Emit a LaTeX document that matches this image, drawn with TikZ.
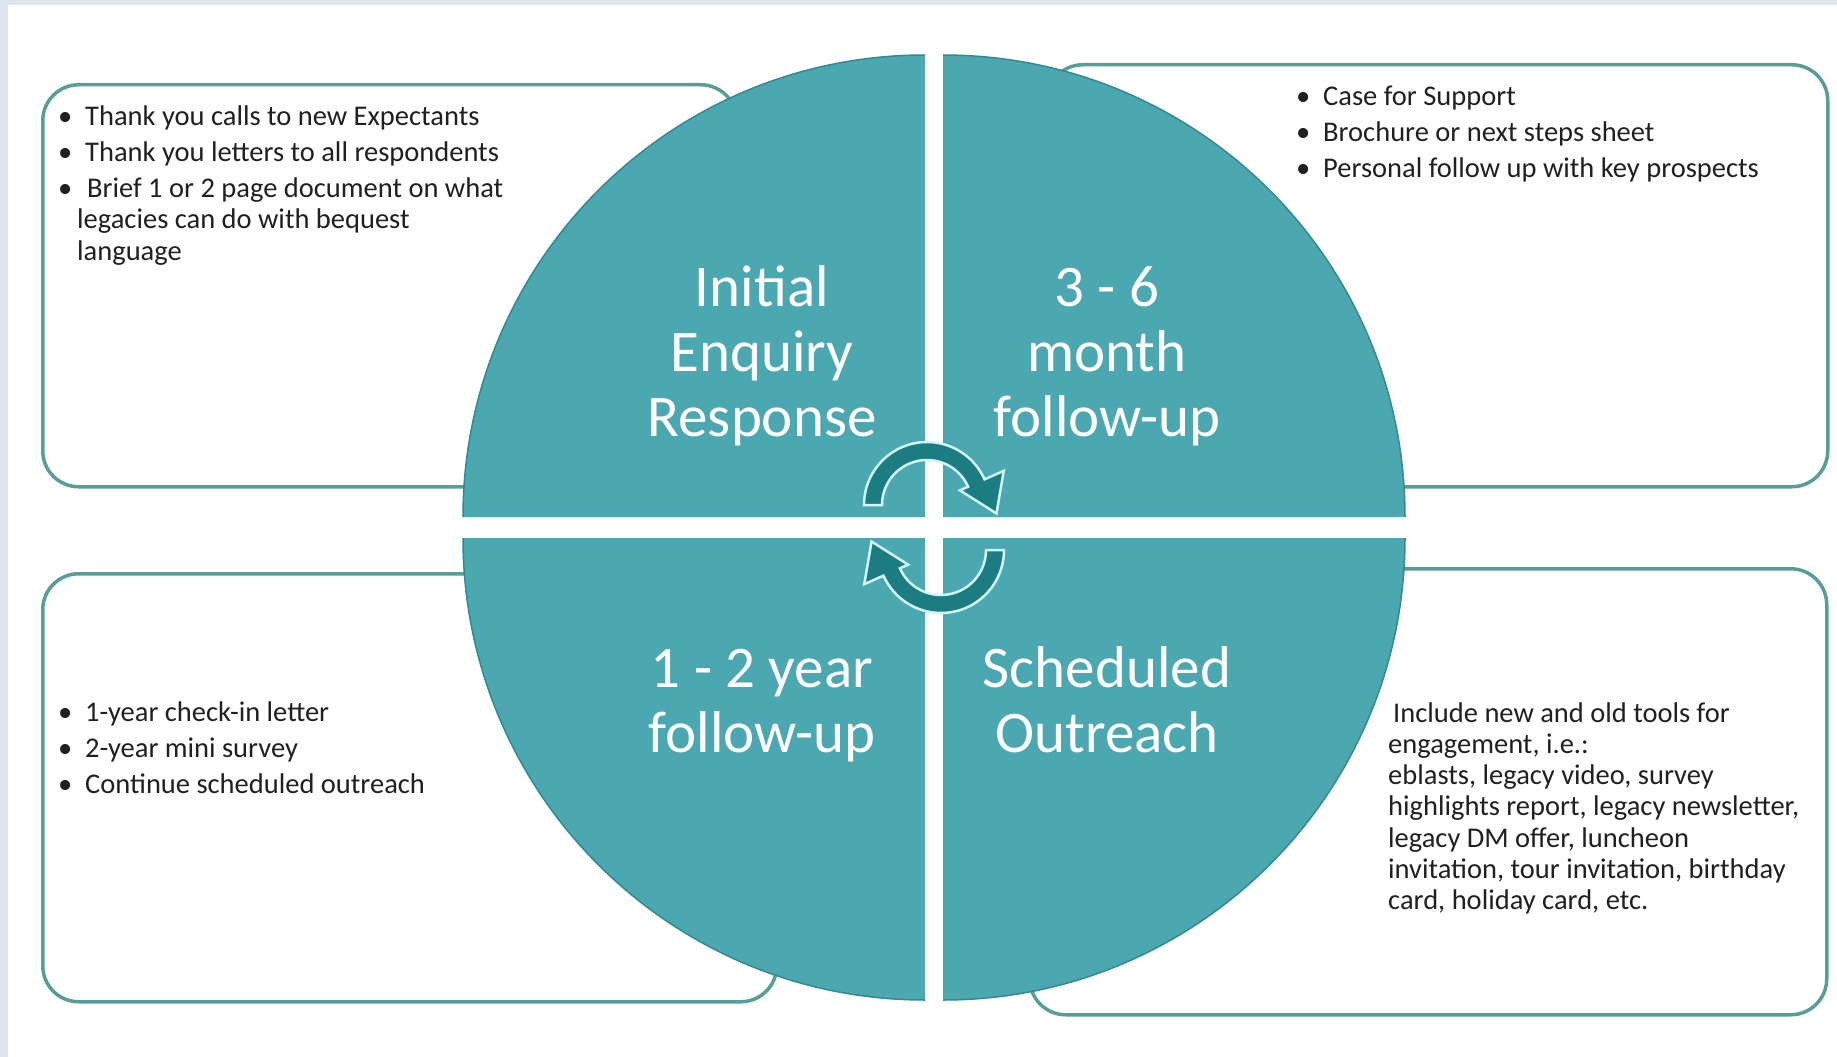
\documentclass[tikz,border=0pt]{standalone}
\usepackage{fontspec}
\setmainfont{Carlito}
\usetikzlibrary{calc}
\definecolor{quadfill}{RGB}{75,168,176}
\definecolor{quadedge}{RGB}{50,138,144}
\definecolor{boxedge}{RGB}{88,158,152}
\definecolor{arrowfill}{RGB}{27,125,129}
\definecolor{arrowedge}{RGB}{210,245,245}
\definecolor{bgframe}{RGB}{222,229,239}
\definecolor{txtgray}{RGB}{32,32,32}
\newcommand\blt{\makebox[27pt][l]{\textbullet}}
\tikzset{
  infobox/.style={draw=boxedge, line width=3.5pt, fill=white, rounded corners=36pt, inner sep=0pt, anchor=north west},
  quad/.style={fill=quadfill},
  quadarc/.style={draw=quadedge, line width=1.5pt},
  cyclearrow/.style={fill=arrowfill, draw=arrowedge, line width=2.5pt, line join=miter},
  qlabel/.style={font=\fontsize{59}{65}\selectfont, text=white, inner sep=0pt, anchor=base},
  boxtext/.style={font=\fontsize{28.5}{31.3}\selectfont, text=txtgray, inner sep=0pt, anchor=base west}
}
\begin{document}
\begin{tikzpicture}[x=1pt,y=-1pt]
\useasboundingbox (0,0) rectangle (1837,1057);
\fill[bgframe] (0,0) rectangle (1837,1057);
\fill[white] (8,5) rectangle (1837,1057);

% info boxes
\node[infobox, minimum width=694pt, minimum height=402pt] (boxTL) at (41,83) {};
\node[infobox, minimum width=781pt, minimum height=422pt] (boxTR) at (1045,63) {};
\node[infobox, minimum width=734pt, minimum height=428pt] (boxBL) at (41,572) {};
\node[infobox, minimum width=797pt, minimum height=446pt] (boxBR) at (1028,567) {};

% quadrants
\fill[quad] (925,517) -- (463,517) arc[start angle=180, end angle=270, radius=462] -- cycle;
\fill[quad] (943,517) -- (943,55) arc[start angle=270, end angle=360, radius=462] -- cycle;
\fill[quad] (943,538) -- (1405,538) arc[start angle=0, end angle=90, radius=462] -- cycle;
\fill[quad] (925,538) -- (925,1000) arc[start angle=90, end angle=180, radius=462] -- cycle;
\draw[quadarc] (463,517) arc[start angle=180, end angle=270, radius=462];
\draw[quadarc] (943,55) arc[start angle=270, end angle=360, radius=462];
\draw[quadarc] (1405,538) arc[start angle=0, end angle=90, radius=462];
\draw[quadarc] (925,1000) arc[start angle=90, end angle=180, radius=462];

% cycle arrows
\coordinate (c1) at (927,505);
\coordinate (c2) at (941,550);
\draw[cyclearrow] ($(c1)+(180:63)$) arc[start angle=180, end angle=336, radius=63]
  -- ($(c1)+(336:84)$) -- ($(c1)+(336:60)+(66:36)$) -- ($(c1)+(336:36)$) -- ($(c1)+(336:45)$)
  arc[start angle=336, end angle=180, radius=45] -- cycle;
\draw[cyclearrow] ($(c2)+(0:63)$) arc[start angle=0, end angle=156, radius=63]
  -- ($(c2)+(156:84)$) -- ($(c2)+(156:60)+(246:36)$) -- ($(c2)+(156:36)$) -- ($(c2)+(156:45)$)
  arc[start angle=156, end angle=0, radius=45] -- cycle;

% quadrant labels
\node[qlabel] (lTL) at (762,306) {\begin{tabular}[t]{@{}c@{}}Initial\\Enquiry\\Response\end{tabular}};
\node[qlabel] (lTR) at (1107,306) {\begin{tabular}[t]{@{}c@{}}3 - 6\\month\\follow-up\end{tabular}};
\node[qlabel] (lBL) at (762,687) {\begin{tabular}[t]{@{}c@{}}1 - 2 year\\follow-up\end{tabular}};
\node[qlabel] (lBR) at (1107,687) {\begin{tabular}[t]{@{}c@{}}Scheduled\\Outreach\end{tabular}};

% box texts
\node[boxtext] (tTL) at (58,125) {\begin{tabular}[t]{@{}l@{}}
\blt Thank you calls to new Expectants\\[5pt]
\blt Thank you letters to all respondents\\[5pt]
\blt\hspace*{2pt}Brief 1 or 2 page document on what\\
\hspace*{19pt}legacies can do with bequest\\
\hspace*{19pt}language
\end{tabular}};
\node[boxtext] (tTR) at (1296,105) {\begin{tabular}[t]{@{}l@{}}
\blt Case for Support\\[5pt]
\blt Brochure or next steps sheet\\[5pt]
\blt Personal follow up with key prospects
\end{tabular}};
\node[boxtext] (tBL) at (58,721) {\begin{tabular}[t]{@{}l@{}}
\blt 1-year check-in letter\\[5pt]
\blt 2-year mini survey\\[5pt]
\blt Continue scheduled outreach
\end{tabular}};
\node[boxtext] (tBR) at (1388,722) {\begin{tabular}[t]{@{}l@{}}
\hspace*{5pt}Include new and old tools for\\
engagement, i.e.:\\
eblasts, legacy video, survey\\
highlights report, legacy newsletter,\\
legacy DM offer, luncheon\\
invitation, tour invitation, birthday\\
card, holiday card, etc.
\end{tabular}};
\end{tikzpicture}
\end{document}
